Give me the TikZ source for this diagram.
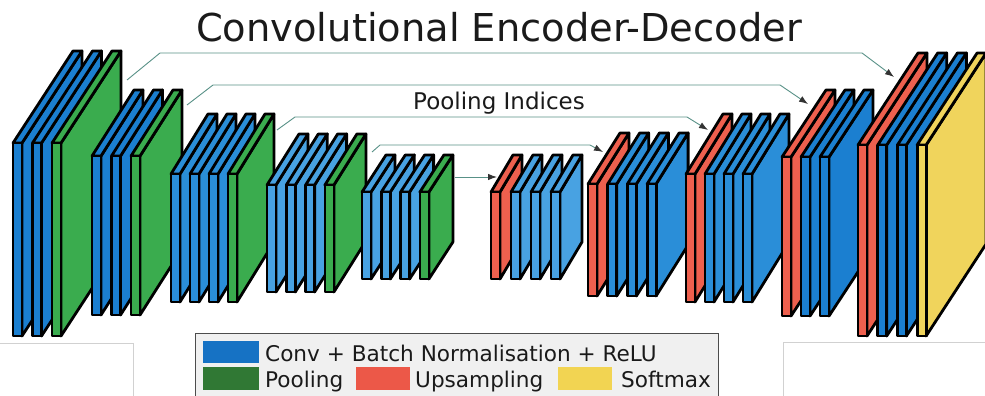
\documentclass[tikz,border=0pt]{standalone}
\usepackage{fontspec}
\setmainfont{DejaVu Sans}
\usetikzlibrary{arrows.meta}

% layer colours
\definecolor{blueA}{RGB}{27,127,208}
\definecolor{blueB}{RGB}{42,142,216}
\definecolor{blueC}{RGB}{72,162,226}
\definecolor{greenS}{RGB}{58,172,78}
\definecolor{redS}{RGB}{238,96,78}
\definecolor{yellowS}{RGB}{240,212,92}
% legend colours
\definecolor{legBlue}{RGB}{22,114,196}
\definecolor{legGreen}{RGB}{48,120,52}
\definecolor{legRed}{RGB}{236,88,72}
\definecolor{legYellow}{RGB}{242,212,82}
\definecolor{linkcol}{RGB}{88,145,135}
\definecolor{inkcol}{RGB}{26,26,26}

\tikzset{
  slabline/.style={draw=black, line width=2.8pt, line join=round},
  index/.style={draw=linkcol, line width=0.9pt,
    -{Latex[length=9pt,width=6.5pt,color=black!80]}},
  legtext/.style={anchor=base west, inner sep=0pt, text=inkcol,
    font=\fontsize{21.6}{25}\selectfont},
  faint/.style={draw=black!18, line width=0.8pt},
}

% one feature-map slab: x, top, bottom, depth dx, depth dy, colour
\newcommand\slab[6]{%
  \filldraw[slabline, fill=#6] (#1+9,#2) -- ++(#4,-#5) -- ++(0,#3-#2) -- (#1+9,#3) -- cycle;
  \filldraw[slabline, fill=#6] (#1,#2) -- (#1+9,#2) -- ++(#4,-#5) -- ++(-9,0) -- cycle;
  \filldraw[slabline, fill=#6] (#1,#2) rectangle (#1+9,#3);
}
% a stack of slabs: first x, spacing, top, bottom, dx, dy, colours
\newcommand\layerstack[7]{%
  \foreach \c [count=\i from 0] in {#7}{%
    \pgfmathsetmacro\xx{#1+\i*#2}%
    \slab{\xx}{#3}{#4}{#5}{#6}{\c}%
  }%
}

\begin{document}
\begin{tikzpicture}[x=1pt,y=-1pt]
\useasboundingbox (0,0) rectangle (985,396);
\clip (0,0) rectangle (985,396);
\fill[white] (0,0) rectangle (985,396);

% frames of the neighbouring panels
\draw[faint] (0,343) -- (133,343) -- (133,396);
\draw[faint] (783,396) -- (783,342) -- (985,342);

% encoder
\layerstack{13}{19.5}{143}{336}{60}{92}{blueA,blueA,greenS}
\layerstack{92}{19.5}{156}{315}{42}{66}{blueA,blueA,greenS}
\layerstack{171}{19}{174}{302}{37}{60}{blueB,blueB,blueB,greenS}
\layerstack{267}{19.3}{185}{292}{32}{51}{blueC,blueC,blueC,greenS}
\layerstack{362}{19.3}{192}{279}{24}{37}{blueC,blueC,blueC,greenS}
% decoder
\layerstack{491}{20}{192}{279}{22}{37}{redS,blueC,blueC,blueC}
\layerstack{588}{19.7}{184}{296}{32}{51}{redS,blueB,blueB,blueB}
\layerstack{686}{19}{174}{302}{37}{60}{redS,blueB,blueB,blueB}
\layerstack{782}{19}{157}{316}{44}{67}{redS,blueA,blueA}
\layerstack{858}{19.7}{145}{336}{60}{92}{redS,blueA,blueA,yellowS}

% titles
\node[anchor=base, inner sep=0pt, text=inkcol,
      font=\fontsize{38.4}{44}\selectfont] (title) at (499,42) {Convolutional Encoder-Decoder};
\node[anchor=base west, inner sep=0pt, text=inkcol,
      font=\fontsize{23}{27}\selectfont] (pooltxt) at (413,109) {Pooling Indices};

% pooling index connections
\coordinate (e1out) at (127,80);  \coordinate (d1in) at (894,77);
\coordinate (e2out) at (187,105); \coordinate (d2in) at (808,104);
\coordinate (e3out) at (277,130); \coordinate (d3in) at (708,130);
\coordinate (e4out) at (372,152); \coordinate (d4in) at (603,152);
\coordinate (e5out) at (455,177); \coordinate (d5in) at (497,177);
\draw[index] (e1out) -- ++(33,-27) -- ([shift={(-32,-24)}]d1in) -- (d1in);
\draw[index] (e2out) -- ++(26,-20) -- ([shift={(-28,-19)}]d2in) -- (d2in);
\draw[index] (e3out) -- ++(18,-13) -- ([shift={(-21,-13)}]d3in) -- (d3in);
\draw[index] (e4out) -- ++(8,-7) -- ([shift={(-13,-7)}]d4in) -- (d4in);
\draw[index] (e5out) -- (d5in);

% legend
\node[draw=black!70, fill=black!6, line width=1.2pt, anchor=north west,
      minimum width=523pt, minimum height=72pt, inner sep=0pt] (legend) at (195,333) {};
\fill[legBlue]   (203,341) rectangle (259,363);
\fill[legGreen]  (203,367) rectangle (259,390);
\fill[legRed]    (356,367) rectangle (410,390);
\fill[legYellow] (558,367) rectangle (612,390);
\node[legtext] (lconv) at (265,361) {Conv + Batch Normalisation + ReLU};
\node[legtext] (lpool) at (265,387) {Pooling};
\node[legtext] (lup)   at (415,387) {Upsampling};
\node[legtext] (lsoft) at (621,387) {Softmax};
\end{tikzpicture}
\end{document}
